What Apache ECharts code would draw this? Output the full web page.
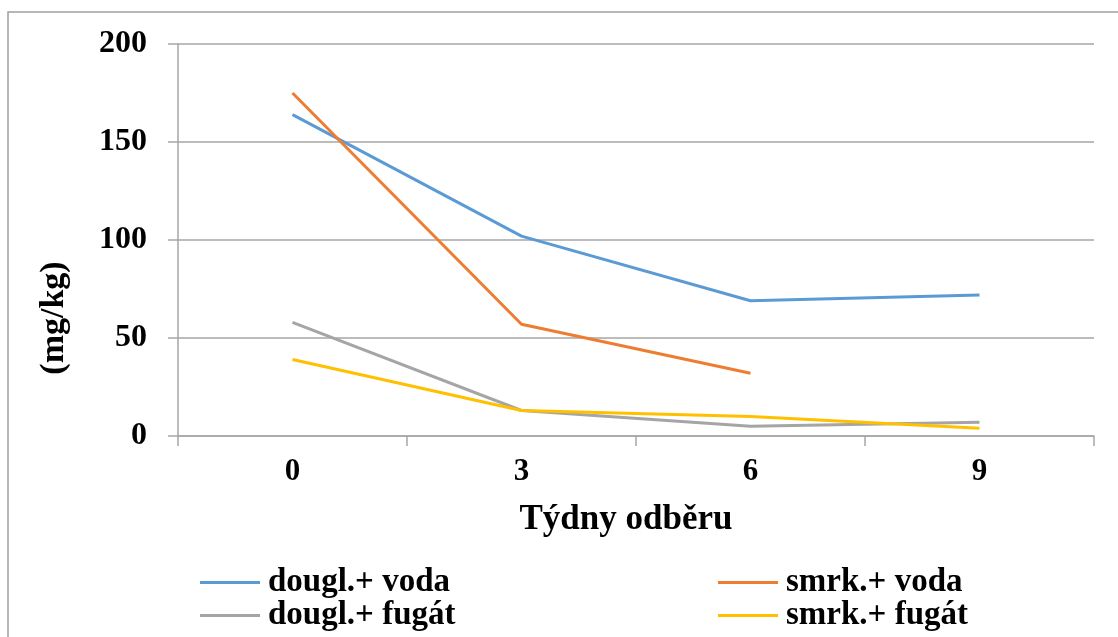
<!DOCTYPE html>
<html>
<head>
<meta charset="utf-8">
<script src="https://cdn.jsdelivr.net/npm/echarts@6/dist/echarts.min.js"></script>
<style>html,body{margin:0;padding:0;background:#fff;}#c{width:1118px;height:637px;}</style>
</head>
<body>
<div id="c"></div>
<script>
const categories = ['0', '3', '6', '9'];
const douglVoda = [164, 102, 69, 72];
const smrkVoda = [175, 57, 32, null];
const douglFugat = [58, 13, 5, 7];
const smrkFugat = [39, 13, 10, 4];
const yTicks = [0, 50, 100, 150, 200];
const yAxisTitle = '(mg/kg)';
const xAxisTitle = 'Týdny odběru';

const font = '"Liberation Serif", "Times New Roman", serif';
const chart = echarts.init(document.getElementById('c'));
const mk = (name, data, color) => ({
  name, type: 'line', data, symbol: 'none', smooth: false,
  lineStyle: { color, width: 3 }, itemStyle: { color }, connectNulls: false
});
const legendText = { fontFamily: font, fontWeight: 'bold', fontSize: 33, color: '#000', lineHeight: 31, padding: [0, 0, 0, 3] };
chart.setOption({
  animation: false,
  backgroundColor: '#fff',
  graphic: [{
    type: 'rect', shape: { x: 8, y: 12, width: 1120, height: 640 },
    style: { fill: 'none', stroke: '#a0a0a0', lineWidth: 1.5 }, silent: true
  }, {
    type: 'text', x: 54, y: 318, rotation: Math.PI / 2,
    style: { text: yAxisTitle, font: 'bold 34px ' + font, fill: '#000', textAlign: 'center', textVerticalAlign: 'middle' }
  }],
  grid: { left: 178, right: 24, top: 44, bottom: 201 },
  xAxis: {
    type: 'category', data: categories, boundaryGap: true,
    axisLine: { show: true, lineStyle: { color: '#a6a6a6', width: 1.5 } },
    axisTick: { show: true, length: 10, lineStyle: { color: '#a6a6a6', width: 1.5 } },
    axisLabel: { fontFamily: font, fontWeight: 'bold', fontSize: 31, color: '#000', margin: 20 },
    name: xAxisTitle, nameLocation: 'middle', nameGap: 66,
    nameTextStyle: { fontFamily: font, fontWeight: 'bold', fontSize: 35, color: '#000', padding: [0, 20, 0, 0] }
  },
  yAxis: {
    type: 'value', min: yTicks[0], max: yTicks[yTicks.length - 1], interval: 50,
    axisLine: { show: true, lineStyle: { color: '#a6a6a6', width: 1.5 } },
    axisTick: { show: true, length: 10, lineStyle: { color: '#a6a6a6', width: 1.5 } },
    splitLine: { show: true, lineStyle: { color: '#a6a6a6', width: 1.5 } },
    axisLabel: { fontFamily: font, fontWeight: 'bold', fontSize: 32, color: '#000', margin: 31 }
  },
  legend: [
    {
      data: ['dougl.+ voda', 'dougl.+ fugát'], orient: 'vertical', left: 195, top: 561,
      icon: 'rect', itemWidth: 60, itemHeight: 3, itemGap: 0,
      textStyle: legendText
    },
    {
      data: ['smrk.+ voda', 'smrk.+ fugát'], orient: 'vertical', left: 713, top: 561,
      icon: 'rect', itemWidth: 60, itemHeight: 3, itemGap: 0,
      textStyle: legendText
    }
  ],
  series: [
    mk('dougl.+ voda', douglVoda, '#5b9bd5'),
    mk('smrk.+ voda', smrkVoda, '#ed7d31'),
    mk('dougl.+ fugát', douglFugat, '#a5a5a5'),
    mk('smrk.+ fugát', smrkFugat, '#ffc000')
  ]
});
</script>
</body>
</html>
